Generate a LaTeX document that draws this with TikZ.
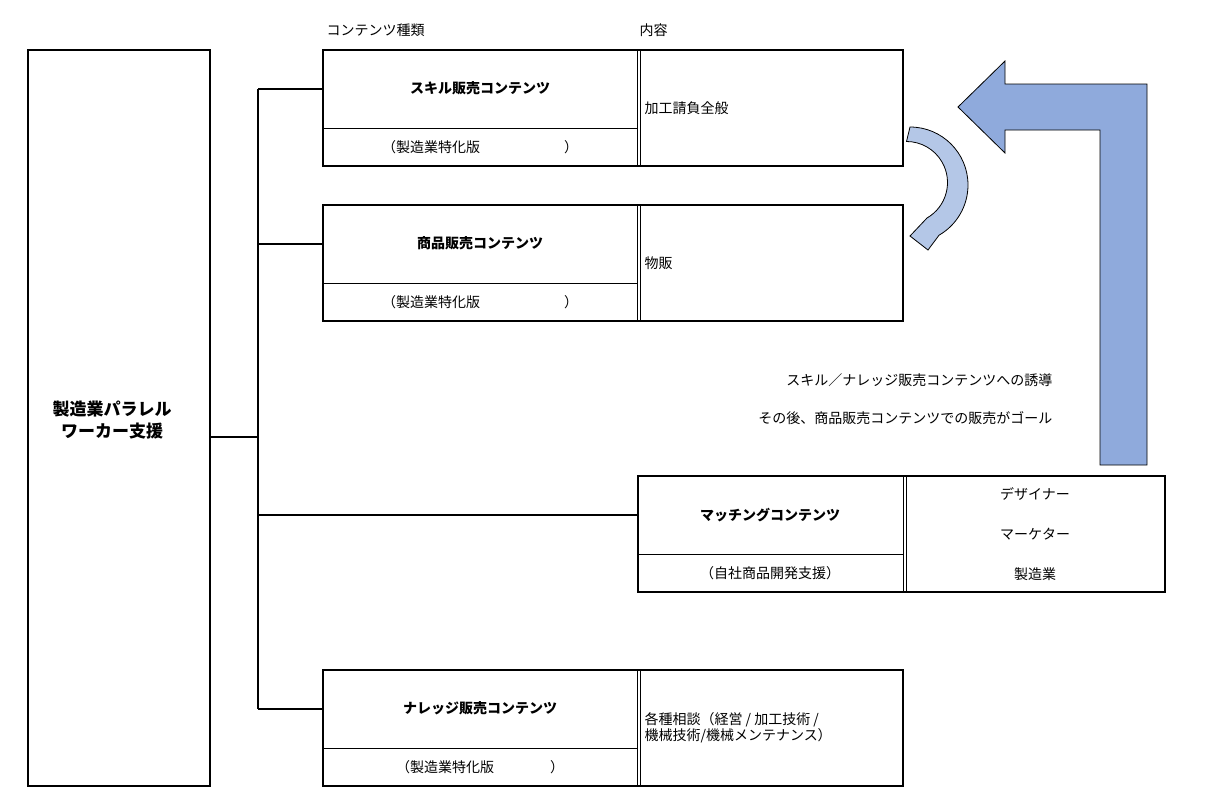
\documentclass[tikz,border=0pt]{standalone}
\usepackage{fontspec}
\setmainfont{Noto Sans CJK JP}
\begin{document}
\begin{tikzpicture}[
    x = 1pt,
    y = -1pt,
    box/.style = {draw, line width=2pt},
    cell/.style = {draw, line width=0.8pt},
    branch/.style = {draw, line width=2pt},
    title/.style = {font=\fontsize{14}{16}\selectfont\bfseries},
    label/.style = {font=\fontsize{14}{16}\selectfont},
]
\useasboundingbox (0,0) rectangle (1211,806);

% left box
\draw[box] (28,50) rectangle (210,786);
\node[font=\fontsize{17}{22}\selectfont\bfseries, align=center] (root) at (112,420) {製造業パラレル\\ワーカー支援};

% headers
\node[label, anchor=west] (hkind) at (323,30) {コンテンツ種類};
\node[label, anchor=west] (hbody) at (636,30) {内容};

% content boxes
\foreach \name/\yy in {skill/50, goods/205, know/670} {
  \draw[box] (323,\yy) rectangle (903,\yy+116);
  \draw[cell] (323,\yy+78) -- (637,\yy+78);
  \draw[cell] (637,\yy) -- (637,\yy+116);
  \draw[cell] (640,\yy) -- (640,\yy+116);
  \coordinate (\name) at (323,\yy+39);
}
\draw[box] (638,476) rectangle (1165,592);
\draw[cell] (638,554) -- (903,554);
\draw[cell] (903,476) -- (903,592);
\draw[cell] (906,476) -- (906,592);
\coordinate (match) at (638,515);

\node[title] (tskill) at (480,88) {スキル販売コンテンツ};
\node[label] (sskill) at (480,147) {（製造業特化版\hspace{6em}）};
\node[label, anchor=west] (cskill) at (641,108) {加工請負全般};

\node[title] (tgoods) at (480,243) {商品販売コンテンツ};
\node[label] (sgoods) at (480,302) {（製造業特化版\hspace{6em}）};
\node[label, anchor=west] (cgoods) at (641,263) {物販};

\node[title] (tmatch) at (770,515) {マッチングコンテンツ};
\node[label] (smatch) at (770,573) {（自社商品開発支援）};
\node[label] (m1) at (1035,494) {デザイナー};
\node[label] (m2) at (1035,534) {マーケター};
\node[label] (m3) at (1035,574) {製造業};

\node[title] (tknow) at (480,708) {ナレッジ販売コンテンツ};
\node[label] (sknow) at (480,767) {（製造業特化版\hspace{4em}）};
\node[label, anchor=west, align=left] (cknow) at (641,728) {各種相談（経営 / 加工技術 /\\機械技術/機械メンテナンス）};

% tree
\coordinate (trunk) at (258,437);
\draw[branch] (210,437) -- (trunk);
\draw[branch] (258,89) -- (258,709);
\foreach \name in {skill, goods, match, know}
  \draw[branch] (258,0 |- \name) -- (\name);

% notes
\node[label, anchor=east] (n1) at (1056,380) {スキル／ナレッジ販売コンテンツへの誘導};
\node[label, anchor=east] (n2) at (1056,418) {その後、商品販売コンテンツでの販売がゴール};

% arrows
\draw[fill={rgb,255:red,143;green,170;blue,220}, line width=0.8pt]
  (958,107) -- (1005,61) -- (1005,84) -- (1147,84) -- (1147,465)
  -- (1100,465) -- (1100,130) -- (1005,130) -- (1005,153) -- cycle;
\draw[fill={rgb,255:red,180;green,199;blue,231}, line width=0.8pt]
  (910,127) arc[start angle=-90, end angle=60, radius=58]
  -- (928,250) -- (910,236) -- (927,218)
  arc[start angle=60, end angle=-90, radius=41] -- cycle;
\end{tikzpicture}
\end{document}
